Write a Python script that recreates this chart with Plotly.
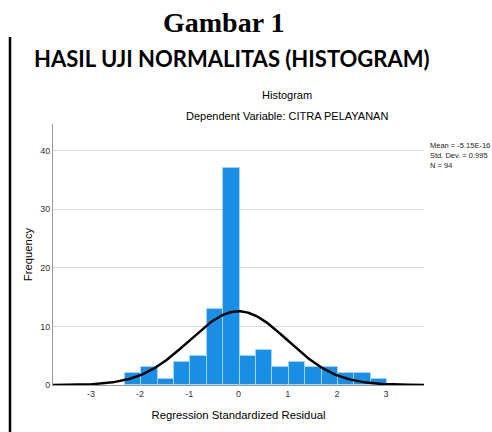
import numpy as np
import plotly.graph_objects as go

# Data
bin_start = -2.31
bin_width = 1/3
counts = [2, 3, 1, 4, 5, 13, 37, 5, 6, 3, 4, 3, 3, 2, 2, 1]
MEAN = -5.15e-16
SD = 0.995
N = 94
x_ticks = [-3, -2, -1, 0, 1, 2, 3]
x_tick_labels = ["-3", "-2", "-1", "0", "1", "2", "3"]
y_ticks = [0, 10, 20, 30, 40]

centers = [bin_start + bin_width * (i + 0.5) for i in range(len(counts))]

# Normal curve defined by the stated mean, SD and N
xs = np.linspace(-3.77, 3.77, 300)
ys = N * bin_width * np.exp(-0.5 * ((xs - MEAN) / SD) ** 2) / (SD * np.sqrt(2 * np.pi))

L, R, T, B = 53, 424, 124, 385
W, H = 492, 432

def px(x):
    return (x - L) / (R - L)

def py(y):
    return (B - y) / (B - T)

fig = go.Figure()
fig.add_trace(go.Bar(x=centers, y=counts, width=bin_width,
                     marker=dict(color="#1a8fe6", line=dict(color="#a6d4f8", width=1)),
                     showlegend=False, hoverinfo="skip"))
fig.add_trace(go.Scatter(x=xs, y=ys, mode="lines", line=dict(color="black", width=2.5),
                         showlegend=False, hoverinfo="skip"))

fig.update_layout(
    width=W, height=H,
    margin=dict(l=L, r=W - R, t=T, b=H - B, autoexpand=False),
    plot_bgcolor="white", paper_bgcolor="white",
    bargap=0,
    xaxis=dict(range=[-3.77, 3.77], tickvals=x_ticks, ticktext=x_tick_labels,
               showgrid=False, zeroline=False,
               showline=True, linecolor="#999999", linewidth=1, automargin=False,
               tickfont=dict(family="Arial, Liberation Sans", size=9, color="#333333"),
               ticks="", ticklen=0,
               title=dict(text="Regression Standardized Residual",
                          font=dict(family="Arial, Liberation Sans", size=11.3, color="black"),
                          standoff=13)),
    yaxis=dict(range=[0, 44.5], tickvals=y_ticks, showgrid=True, gridcolor="#d9d9d9", gridwidth=1,
               zeroline=False, showline=True, linecolor="#999999", linewidth=1, automargin=False,
               tickfont=dict(family="Arial, Liberation Sans", size=9, color="#333333"),
               ticks="",
               title=dict(text="Frequency",
                          font=dict(family="Arial, Liberation Sans", size=11.3, color="black"),
                          standoff=5)),
)

annots = [
    dict(text="<b>Gambar 1</b>", x=px(224), y=py(22), font=dict(family="Liberation Serif, Times New Roman", size=28, color="black")),
    dict(text="<b>HASIL UJI NORMALITAS (HISTOGRAM)</b>", x=px(232), y=py(58), font=dict(family="Lato", size=22, color="black")),
    dict(text="Histogram", x=px(287), y=py(95), font=dict(family="Arial, Liberation Sans", size=11, color="black")),
    dict(text="Dependent Variable: CITRA PELAYANAN", x=px(287), y=py(116), font=dict(family="Arial, Liberation Sans", size=11, color="black")),
]
for a in annots:
    fig.add_annotation(xref="paper", yref="paper", xanchor="center", yanchor="middle", showarrow=False, **a)

fig.add_annotation(xref="paper", yref="paper", x=px(428), y=py(139), xanchor="left", yanchor="top",
                   showarrow=False, align="left",
                   text=f"Mean = -5.15E-16<br>Std. Dev. = {SD}<br>N = {N}",
                   font=dict(family="Arial, Liberation Sans", size=7.5, color="#222222"))

fig.add_shape(type="line", xref="paper", yref="paper", x0=px(10), x1=px(10), y0=py(37), y1=py(432),
              line=dict(color="black", width=2.5))

fig.write_html("out.html", config={"displayModeBar": False},
               post_script="document.body.style.margin='0';document.body.style.overflow='hidden';")
